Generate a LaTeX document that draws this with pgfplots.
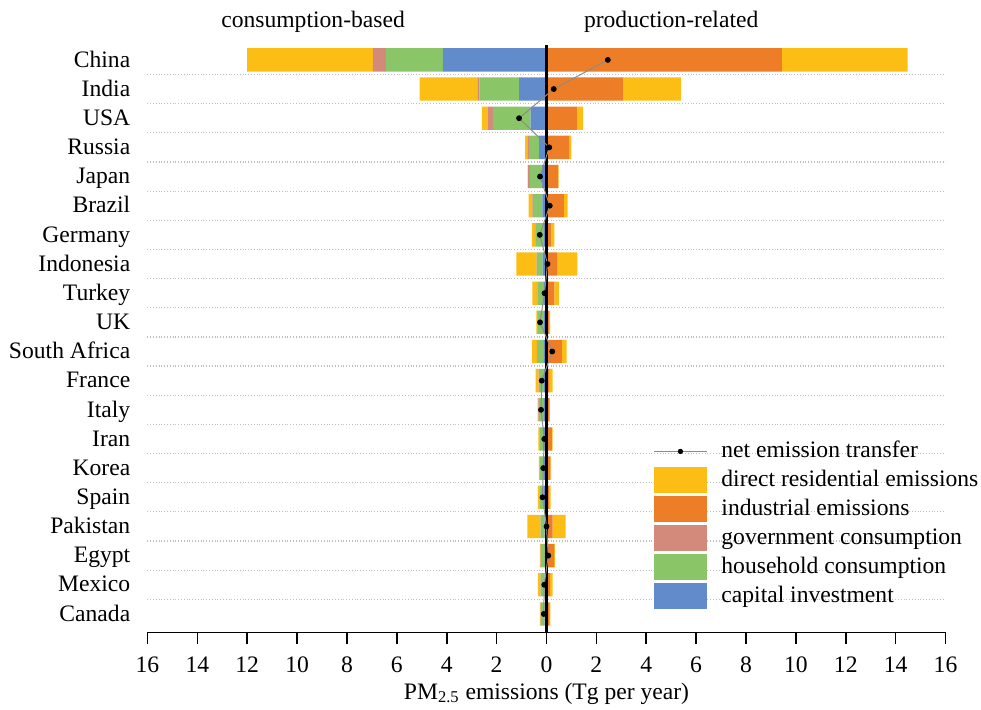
\documentclass[border=0pt]{standalone}
\usepackage{fontspec}
\setmainfont{Liberation Serif}
\usepackage{pgfplots}
\usepackage{pgfplotstable}
\pgfplotsset{compat=1.18}

\definecolor{cres}{RGB}{252,190,20}
\definecolor{cind}{RGB}{237,125,39}
\definecolor{cgov}{RGB}{212,138,122}
\definecolor{chh}{RGB}{138,198,104}
\definecolor{ccap}{RGB}{98,139,203}

\newcommand{\fs}{\fontsize{11.8}{14}\selectfont}

% row: 0 = China ... 19 = Canada
\pgfplotstableread{
row cap  hh   gov  res  ind  net
0   4.16 2.28 0.52 5.04 9.44 2.46
1   1.10 1.59 0.08 2.32 3.08 0.29
2   0.64 1.51 0.19 0.25 1.22 -1.10
3   0.30 0.40 0.07 0.09 0.91 0.11
4   0.20 0.47 0.07 0.02 0.47 -0.26
5   0.17 0.38 0.02 0.15 0.70 0.13
6   0.13 0.31 0.03 0.12 0.20 -0.27
7   0.16 0.23 0.01 0.81 0.43 0.04
8   0.13 0.24 0.02 0.18 0.32 -0.08
9   0.10 0.26 0.02 0.03 0.12 -0.26
10  0.11 0.27 0.01 0.19 0.62 0.23
11  0.10 0.20 0.02 0.12 0.13 -0.19
12  0.11 0.20 0.02 0.03 0.11 -0.22
13  0.14 0.15 0.01 0.03 0.22 -0.09
14  0.11 0.16 0.01 0.03 0.16 -0.13
15  0.11 0.16 0.01 0.07 0.10 -0.16
16  0.08 0.16 0.01 0.52 0.25 0.00
17  0.07 0.16 0.01 0.03 0.31 0.07
18  0.08 0.16 0.01 0.10 0.15 -0.09
19  0.08 0.15 0.01 0.03 0.13 -0.11
}\emis

\pgfplotsset{
  base/.style={
    at={(0,0)}, anchor=south west,
    scale only axis, width=399pt, height=293.5pt,
    xmin=-16, xmax=16, ymin=-0.5, ymax=19.63, y dir=reverse,
    bar width=0.8, clip=false,
  },
}

\begin{document}
\fs
\begin{tikzpicture}
\path[use as bounding box] (-73.75pt,-38.35pt) rectangle (416.75pt,316.15pt);

% left: consumption-based, plus all axis decoration
\begin{axis}[base,
    xbar stacked,
    axis x line*=bottom, axis y line*=left,
    y axis line style={draw=none},
    x axis line style={line width=0.8pt},
    xtick={-16,-14,...,16},
    xticklabels={16,14,12,10,8,6,4,2,0,2,4,6,8,10,12,14,16},
    tick align=outside, major tick length=6pt,
    xtick style={line width=0.8pt, black},
    ytick={0,...,19},
    yticklabels={China,India,USA,Russia,Japan,Brazil,Germany,Indonesia,Turkey,UK,South Africa,France,Italy,Iran,Korea,Spain,Pakistan,Egypt,Mexico,Canada},
    ytick style={draw=none},
    typeset ticklabels with strut,
    minor ytick={0.5,1.5,...,18.5},
    minor tick length=0pt,
    yminorgrids, minor grid style={densely dotted, black!25, line width=0.6pt},
    /pgf/number format/assume math mode=true,
    tick label style={font=\fs},
    yticklabel style={xshift=1.5pt, yshift=-0.8pt},
    xticklabel style={yshift=0pt},
    xlabel={PM\textsubscript{2.5} emissions (Tg per year)},
    xlabel style={font=\fs, yshift=7pt},
  ]
  \addplot[fill=ccap, draw=none] table[x expr=-\thisrow{cap}, y=row] {\emis};
  \addplot[fill=chh,  draw=none] table[x expr=-\thisrow{hh},  y=row] {\emis};
  \addplot[fill=cgov, draw=none] table[x expr=-\thisrow{gov}, y=row] {\emis};
  \addplot[fill=cres, draw=none] table[x expr=-\thisrow{res}, y=row] {\emis};
  \node[font=\fs] at (axis cs:-9.36,-1.3) {consumption-based};
  \node[font=\fs] at (axis cs:5.0,-1.3) {production-related};
\end{axis}

% right: production-related
\begin{axis}[base, xbar stacked, hide axis]
  \addplot[fill=cind, draw=none] table[x=ind, y=row] {\emis};
  \addplot[fill=cres, draw=none] table[x=res, y=row] {\emis};
\end{axis}

% zero line, net transfer and legend
\begin{axis}[base,
    hide axis,
    legend style={at={(0.6335,0.331)}, anchor=north west, draw=none, fill=none,
      font=\fs, row sep=1.5pt, column sep=7pt, inner sep=0pt,
      nodes={inner sep=0pt}},
    legend cell align=left,
    legend image code/.code={\fill[#1] (0pt,-6.5pt) rectangle (26.5pt,6.5pt);},
  ]
  \addlegendimage{legend image code/.code={
      \path[draw=none, fill=none] (0pt,-6.5pt) rectangle (26.5pt,6.5pt);
      \draw[black!45, line width=0.5pt] (0pt,0pt) -- (26.5pt,0pt);
      \fill[black] (13.25pt,0pt) circle (1.1pt);}}
  \addlegendentry{net emission transfer}
  \addlegendimage{fill=cres, draw=none}
  \addlegendentry{direct residential emissions}
  \addlegendimage{fill=cind, draw=none}
  \addlegendentry{industrial emissions}
  \addlegendimage{fill=cgov, draw=none}
  \addlegendentry{government consumption}
  \addlegendimage{fill=chh, draw=none}
  \addlegendentry{household consumption}
  \addlegendimage{fill=ccap, draw=none}
  \addlegendentry{capital investment}
  \draw[black, line width=1.5pt] (axis cs:0,-0.5) -- (axis cs:0,19.63);
  \addplot[forget plot, black!45, line width=0.5pt, mark=*, mark size=1.2pt,
    mark options={black, fill=black}]
    table[x=net, y=row] {\emis};
\end{axis}
\end{tikzpicture}
\end{document}
